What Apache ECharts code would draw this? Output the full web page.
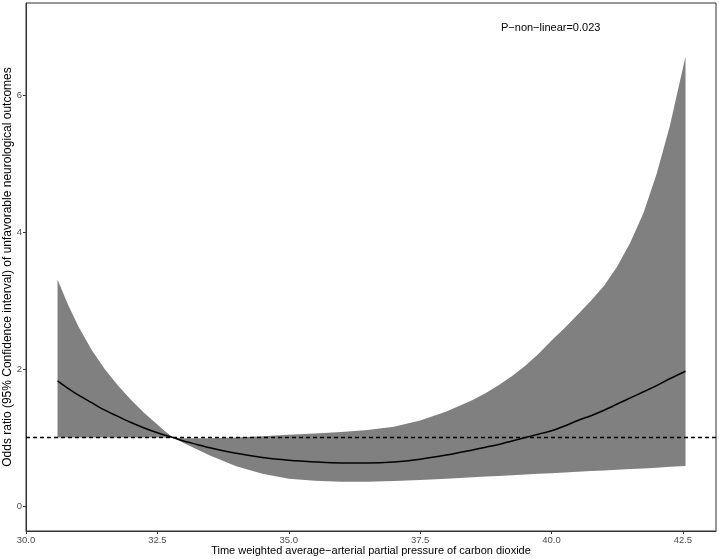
<!DOCTYPE html>
<html>
<head>
<meta charset="utf-8">
<script src="https://cdn.jsdelivr.net/npm/echarts@6/dist/echarts.min.js"></script>
<style>html,body{margin:0;padding:0;background:#fff}#c{width:719px;height:559px}</style>
</head>
<body>
<div id="c"></div>
<script>
const xValues = [30.6, 30.8, 31.0, 31.25, 31.5, 31.75, 32.0, 32.25, 32.5, 32.65, 32.8, 33.0, 33.25, 33.5, 34.0, 34.5, 35.0, 35.5, 36.0, 36.5, 37.0, 37.5, 38.0, 38.5, 38.75, 39.0, 39.25, 39.5, 39.75, 40.0, 40.25, 40.5, 40.75, 41.0, 41.25, 41.5, 41.75, 42.0, 42.25, 42.55];
const orValues = [1.83, 1.72, 1.62, 1.51, 1.40, 1.31, 1.22, 1.14, 1.07, 1.035, 1.00, 0.95, 0.90, 0.85, 0.77, 0.71, 0.67, 0.645, 0.63, 0.63, 0.645, 0.685, 0.745, 0.82, 0.86, 0.90, 0.95, 1.00, 1.05, 1.10, 1.17, 1.25, 1.32, 1.40, 1.49, 1.58, 1.67, 1.76, 1.86, 1.97];
const lowerValues = [1.0, 1.0, 1.0, 1.0, 1.0, 1.0, 1.0, 1.0, 1.0, 1.0, 1.0, 0.92, 0.83, 0.74, 0.58, 0.47, 0.40, 0.37, 0.355, 0.355, 0.365, 0.38, 0.40, 0.42, 0.43, 0.44, 0.45, 0.46, 0.47, 0.48, 0.49, 0.50, 0.51, 0.52, 0.53, 0.54, 0.55, 0.56, 0.572, 0.585];
const upperValues = [3.31, 2.94, 2.62, 2.28, 2.00, 1.76, 1.55, 1.36, 1.19, 1.09, 1.00, 0.99, 0.99, 0.99, 1.00, 1.02, 1.04, 1.06, 1.08, 1.11, 1.16, 1.25, 1.38, 1.55, 1.65, 1.77, 1.90, 2.05, 2.22, 2.42, 2.60, 2.80, 3.00, 3.22, 3.50, 3.85, 4.28, 4.85, 5.55, 6.57];
const xTicks = [30.0, 32.5, 35.0, 37.5, 40.0, 42.5];
const yTicks = [0, 2, 4, 6];
const refValue = 1;
const annotation = 'P\u2212non\u2212linear=0.023';
const xTitle = 'Time weighted average\u2212arterial partial pressure of carbon dioxide';
const yTitle = 'Odds ratio (95% Confidence interval) of unfavorable neurological outcomes';

const chart = echarts.init(document.getElementById('c'), null, {renderer: 'canvas'});
const font = 'Liberation Sans, Arial, Helvetica, sans-serif';
const lineData = xValues.map((x, i) => [x, orValues[i]]);

chart.setOption({
  animation: false,
  grid: {left: 26, right: 3, top: 3, bottom: 28, containLabel: false, outerBoundsMode: 'none',
    show: true, borderColor: '#333', borderWidth: 1, backgroundColor: '#fff'},
  xAxis: {
    type: 'value', min: 30, max: 43.13,
    name: xTitle, nameLocation: 'middle', nameGap: 14, nameMoveOverlap: false,
    nameTextStyle: {fontFamily: font, fontSize: 11, color: '#000'},
    axisLine: {show: true, onZero: false, lineStyle: {color: '#333', width: 1}},
    axisTick: {show: true, length: 3, customValues: xTicks, lineStyle: {color: '#333'}},
    axisLabel: {fontFamily: font, fontSize: 9.5, color: '#4d4d4d', margin: 4,
      customValues: xTicks, formatter: v => v.toFixed(1)},
    splitLine: {show: false}
  },
  yAxis: {
    type: 'value', min: -0.365, max: 7.35,
    name: yTitle, nameLocation: 'middle', nameGap: 12.5, nameMoveOverlap: false,
    nameTextStyle: {fontFamily: font, fontSize: 12, color: '#000'},
    axisLine: {show: true, onZero: false, lineStyle: {color: '#333', width: 1}},
    axisTick: {show: true, length: 3, customValues: yTicks, lineStyle: {color: '#333'}},
    axisLabel: {fontFamily: font, fontSize: 9.5, color: '#4d4d4d', margin: 4,
      customValues: yTicks, formatter: v => String(v)},
    splitLine: {show: false}
  },
  series: [
    {
      type: 'custom', silent: true, z: 2,
      data: [[xValues[0], lowerValues[0]]],
      renderItem: (params, api) => {
        const pts = [];
        for (let i = 0; i < xValues.length; i++) pts.push(api.coord([xValues[i], upperValues[i]]));
        for (let i = xValues.length - 1; i >= 0; i--) pts.push(api.coord([xValues[i], lowerValues[i]]));
        return {type: 'polygon', shape: {points: pts}, style: {fill: '#808080', stroke: null}};
      }
    },
    {
      type: 'line', data: lineData, symbol: 'none', smooth: 0.3, silent: true, z: 5,
      lineStyle: {color: '#000', width: 1.5},
      markLine: {
        silent: true, symbol: 'none', label: {show: false},
        lineStyle: {color: '#000', type: [4, 3], width: 1.3},
        data: [{yAxis: refValue}]
      }
    }
  ],
  graphic: [
    {type: 'text', left: 501, top: 22, style: {text: annotation, fontFamily: font, fontSize: 11, fill: '#000'}}
  ]
});
</script>
</body>
</html>
